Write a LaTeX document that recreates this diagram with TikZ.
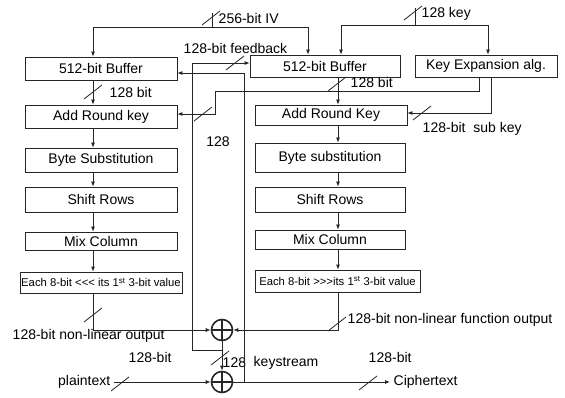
\documentclass[tikz,border=0pt]{standalone}
\usepackage{fontspec}
\setmainfont{Liberation Sans}
\usetikzlibrary{arrows.meta}
\tikzset{
  blk/.style={draw, rectangle, inner sep=0pt, minimum width=152pt, minimum height=23pt},
  small/.style={font=\fontsize{11.3}{12}\selectfont},
  xorop/.style={circle, draw, line width=1.6pt, minimum size=21pt, inner sep=0pt,
    path picture={\draw[line width=1.6pt]
      (path picture bounding box.north) -- (path picture bounding box.south)
      (path picture bounding box.west) -- (path picture bounding box.east);}},
}
\begin{document}
\begin{tikzpicture}[x=1pt,y=-1pt,color=black!85,line width=0.8pt,
  >={Latex[length=5pt,width=4pt]},
  every node/.style={text=black, font=\fontsize{14}{16}\selectfont}]
\useasboundingbox (0,0) rectangle (565,398);
% column axes and inputs
\coordinate (lx) at (93,0);
\coordinate (rx) at (338,0);
\coordinate (fbx) at (192,0);
\coordinate (ivin) at (212,13);
\coordinate (ivsplit) at (212,27);
\coordinate (keyin) at (415,8);
\coordinate (ksplit) at (415,25);
\coordinate (skl) at (215,91);
\coordinate (fbtap) at (222,350);
\coordinate (cttap) at (244,382);
% left column
\node[blk] (lbuf) at (101,68.5) {512-bit Buffer};
\node[blk] (lark) at (101,116.5) {Add Round key};
\node[blk, minimum height=24pt] (lbs) at (101,160) {Byte Substitution};
\node[blk, minimum height=25pt] (lsr) at (101,199.5) {Shift Rows};
\node[blk, minimum height=18pt] (lmc) at (101,241) {Mix Column};
\node[blk, small, minimum width=162pt, minimum height=21pt] (lnl) at (101,282.5) {Each 8-bit <\kern0pt<\kern0pt< its 1\textsuperscript{st} 3-bit value};
% right column
\node[blk, minimum width=150pt, minimum height=22pt] (rbuf) at (325,66) {512-bit Buffer};
\node[blk, minimum width=142pt, minimum height=22pt] (kexp) at (486,66) {Key Expansion alg.};
\node[blk, minimum height=20pt] (rark) at (331,115) {Add Round Key};
\node[blk, minimum width=150pt, minimum height=29pt] (rbs) at (330,157.5) {Byte substitution};
\node[blk, minimum width=150pt, minimum height=25pt] (rsr) at (330,199.5) {Shift Rows};
\node[blk, minimum width=150pt, minimum height=19pt] (rmc) at (330,239.5) {Mix Column};
\node[blk, small, minimum width=165pt, minimum height=22pt] (rnl) at (337.5,281) {Each 8-bit >\kern0pt>\kern0pt>its 1\textsuperscript{st} 3-bit value};
% xor
\node[xorop] (xor1) at (222,330) {};
\node[xorop] (xor2) at (222,382) {};
% labels
\node[anchor=west] (ivlbl) at (215,18) {256-bit IV};
\node[anchor=west] (keylbl) at (418,14) {128 key};
\node[anchor=west] (fblbl) at (180,48) {128-bit feedback};
\node[anchor=west] (lbitlbl) at (106,92) {128 bit};
\node[anchor=west] (rbitlbl) at (347,82) {128 bit};
\node (midlbl) at (218,142) {128};
\node[anchor=west] (sklbl) at (419,129) {128-bit\ \ sub key};
\node[anchor=west] (lnllbl) at (9,336) {128-bit non-linear output};
\node[anchor=west] (rnllbl) at (344,320) {128-bit non-linear function output};
\node[anchor=west] (kslbl) at (219,363) {128};
\node[anchor=west] (kstlbl) at (250,363) {keystream};
\node[anchor=east] (ptlbl) at (114,382) {plaintext};
\node[anchor=west] (pbitlbl) at (125,357) {128-bit};
\node[anchor=west] (cbitlbl) at (365,357) {128-bit};
\node[anchor=west] (ctlbl) at (390,382) {Ciphertext};
% connectors
\draw (ivin) -- (ivsplit);
\draw[->] (ivsplit) -| (lbuf.north -| lx);
\draw[->] (ivsplit) -| ([xshift=-17]rbuf.north);
\draw (keyin) -- (ksplit);
\draw[->] (ksplit) -| ([xshift=16]rbuf.north);
\draw[->] (ksplit) -| ([xshift=2]kexp.north);
\foreach \a/\b in {lbuf/lark,lark/lbs,lbs/lsr,lsr/lmc,lmc/lnl}
{\draw[->] (\a.south -| lx) -- (\b.north -| lx);}
\foreach \a/\b in {rbuf/rark,rark/rbs,rbs/rsr,rsr/rmc,rmc/rnl}
{\draw[->] (\a.south -| rx) -- (\b.north -| rx);}
\draw[->] ([xshift=-7]kexp.south) |- (skl) |- ([yshift=2.5]lark.east);
\draw[->] ([xshift=5]kexp.south) |- ([yshift=2]rark.east);
\draw[->] (lnl.south -| lx) |- (xor1.west);
\draw[->] (rnl.south -| rx) |- (xor1.east);
\draw[->] (xor1) -- (xor2);
\draw[->] (fbtap) -- (fbtap -| fbx) |- ([yshift=3]rbuf.west);
\draw[->] (ptlbl.east) -- (xor2.west);
\draw[->] (xor2.east) -- (ctlbl.west);
\draw[->] (cttap) |- ([yshift=-4.5]lbuf.east);
% bus width ticks
\foreach \p in {(211,18),(413,13),(93,92),(337,84),(235,63),(203,114),(422,113),(93,315),(337,324),(220,358),(120,384),(368,383)}
{\draw \p ++(-9,7) -- ++(18,-14);}
\end{tikzpicture}
\end{document}
